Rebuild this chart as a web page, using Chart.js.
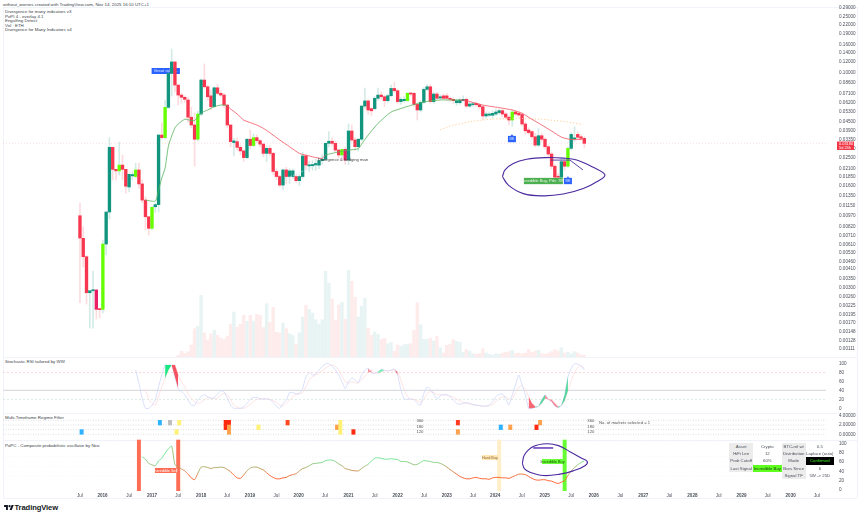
<!DOCTYPE html>
<html>
<head>
<meta charset="utf-8">
<title>ETH/BTC</title>
<script src="https://cdn.jsdelivr.net/npm/chart.js@4"></script>
<style>
    html, body { margin: 0; padding: 0; background: #fff; }
    body { position: relative; width: 860px; height: 515px; overflow: hidden; font-family: "Liberation Sans", sans-serif; color: #333; }
    canvas { position: absolute; left: 3px; }
    .txt { position: absolute; font-size: 4.4px; line-height: 5px; white-space: nowrap; color: #3b3f4a; }
    .rule { position: absolute; background: #f0f3fa; }
    #stats { position: absolute; left: 729.3px; top: 443px; border-collapse: collapse; table-layout: fixed; font-size: 4.3px; }
    #stats td { padding: 0; height: 7.2px; line-height: 7px; text-align: center; color: #4a4e59; overflow: hidden; white-space: nowrap; }
    #stats .head { background: #ececec; }
    #stats .lime { background: #5fff1f; color: #1b3a10; }
    #stats .black { background: #000; color: #39ff14; }
    #brand { position: absolute; left: 14.5px; top: 502.5px; font-size: 7.6px; line-height: 9px; font-weight: bold; color: #131722; letter-spacing: -0.1px; }
</style>
</head>
<body>
<div class="txt" style="left:3px;top:2px">without_worries created with TradingView.com, Nov 14, 2025 16:10 UTC+1</div>
<div class="txt" style="left:5px;top:9px">Divergence for many indicators v3</div>
<div class="txt" style="left:5px;top:13.6px">PoPI 4 - overlay 4.1</div>
<div class="txt" style="left:5px;top:18.2px">Engulfing Detect</div>
<div class="txt" style="left:5px;top:22.8px">Vol · ETH</div>
<div class="txt" style="left:5px;top:27.4px">Divergence for Many Indicators v4</div>
<div class="txt" style="left:5px;top:359px">Stochastic RSI tailored by WW</div>
<div class="txt" style="left:5px;top:415px">Multi-Timeframe Regime Filter</div>
<div class="txt" style="left:5px;top:442.5px">PoPC - Composite probabilistic oscillator by Neo</div>

<div class="rule" style="left:3px;top:7px;width:854px;height:1px"></div>
<div class="rule" style="left:3px;top:357px;width:854px;height:1px"></div>
<div class="rule" style="left:3px;top:413px;width:854px;height:1px"></div>
<div class="rule" style="left:3px;top:440px;width:854px;height:1px"></div>
<div class="rule" style="left:3px;top:498px;width:854px;height:1px"></div>
<div class="rule" style="left:3px;top:7px;width:1px;height:491px"></div>
<div class="rule" style="left:857px;top:7px;width:1px;height:491px"></div>

<canvas id="mainChart" width="854" height="357" style="top:0"></canvas>
<canvas id="stochChart" width="854" height="56" style="top:357px"></canvas>
<canvas id="regimeChart" width="854" height="25" style="top:413px"></canvas>
<canvas id="popcChart" width="854" height="60" style="top:438px"></canvas>

<table id="stats">
    <colgroup><col style="width:23.7px"><col style="width:28.7px"><col style="width:24px"><col style="width:28.3px"></colgroup>
    <tr><td class="head">Asset</td><td>Crypto</td><td class="head">BTC-rel wt</td><td>0.5</td></tr>
    <tr><td class="head">HiFi Len</td><td>12</td><td class="head">Distribution</td><td>Laplace (auto)</td></tr>
    <tr><td class="head">Prob Cutoff</td><td>60%</td><td class="head">Mode</td><td class="black">Confirmed</td></tr>
    <tr><td class="head">Last Signal</td><td class="lime">Incredible Buy</td><td class="head">Bars Since</td><td>6</td></tr>
    <tr><td></td><td></td><td class="head">Signal TF</td><td>5W -> 25D</td></tr>
</table>

<svg style="position:absolute;left:3.5px;top:504px" width="10" height="6" viewBox="0 0 36 22"><path fill="#131722" d="M14 22H7V11H0V4h14v18zM28 22h-8l7.5-18h8L28 22z"/><circle fill="#131722" cx="20" cy="8" r="4"/></svg>
<div id="brand">TradingView</div>

<script>
// 봉 번호 0..154, 25일봉
var openPrices = [
    .00976,.00675,.00500,.00278,.00287,.00291,.00212,.00212,.00615,.01037,
    .0298,.0208,.0203,.0223,.0208,.0156,.0187,.0185,.0206,.0164,
    .0126,.00960,.00795,.0113,.0117,.0364,.0349,.0572,.0996,.120,
    .0823,.0699,.0674,.0645,.0487,.0429,.0340,.0513,.0893,.0800,
    .0690,.0578,.0787,.0719,.0699,.0594,.0429,.0322,.0327,.0298,
    .0281,.0252,.0340,.0307,.0349,.0332,.0314,.0270,.0293,.0270,
    .0201,.0185,.0161,.0206,.0185,.0185,.0185,.0173,.0185,.0259,
    .0220,.0221,.0223,.0223,.0240,.0245,.0318,.0329,.0318,.0285,
    .0263,.0288,.0242,.0389,.0336,.0301,.0340,.0584,.0635,.0560,
    .0560,.0663,.0699,.0680,.0638,.0692,.0779,.0750,.0628,.0638,
    .0638,.0719,.0719,.0600,.0548,.0621,.0767,.0800,.0628,.0711,
    .0666,.0690,.0690,.0658,.0652,.0617,.0617,.0638,.0652,.0584,
    .0597,.0611,.0597,.0578,.0497,.0503,.0503,.0513,.0525,.0542,
    .0513,.0487,.0465,.0530,.0519,.0509,.0436,.0395,.0385,.0354,
    .0309,.0360,.0340,.0301,.0267,.0219,.0185,.0183,.0236,.0219,
    .0293,.0342,.0368,.0354,.0345
];
var closePrices = [
    .00678,.00500,.00278,.00287,.00291,.00212,.00211,.00615,.01037,.0298,
    .0208,.0203,.0223,.0208,.0158,.0192,.0191,.0206,.0164,.0126,
    .00960,.00795,.0112,.0117,.0364,.0349,.0572,.0996,.120,.0823,
    .0699,.0674,.0652,.0487,.0429,.0340,.0513,.0893,.0800,.0680,
    .0578,.0787,.0719,.0699,.0594,.0429,.0327,.0331,.0298,.0281,
    .0252,.0340,.0307,.0349,.0332,.0314,.0270,.0293,.0270,.0201,
    .0185,.0161,.0206,.0185,.0203,.0203,.0173,.0185,.0259,.0223,
    .0224,.0225,.0229,.0240,.0245,.0318,.0329,.0318,.0285,.0263,
    .0288,.0242,.0389,.0336,.0301,.0340,.0584,.0635,.0548,.0541,
    .0663,.0699,.0680,.0638,.0692,.0779,.0750,.0628,.0652,.0652,
    .0719,.0711,.0600,.0548,.0621,.0767,.0800,.0628,.0711,.0663,
    .0680,.0663,.0663,.0652,.0638,.0638,.0645,.0652,.0584,.0604,
    .0604,.0597,.0578,.0497,.0513,.0513,.0519,.0530,.0542,.0513,
    .0487,.0465,.0530,.0513,.0505,.0436,.0390,.0379,.0354,.0309,
    .0360,.0340,.0301,.0267,.0219,.0183,.0183,.0236,.0219,.0293,
    .0368,.0346,.0351,.0345,.0318
];
var highPrices = [
    .0120,.00816,.00510,.00290,.00395,.00291,.00213,.00656,.0104,.0349,
    .0298,.0208,.0325,.0263,.0208,.0192,.0200,.0230,.0230,.0175,
    .0133,.00960,.0114,.0120,.0370,.0444,.0645,.100,.148,.120,
    .0823,.0720,.0690,.0677,.0575,.0522,.0535,.0910,.116,.0820,
    .0759,.0800,.0835,.0750,.0720,.0600,.0429,.0345,.0347,.0310,
    .0285,.0345,.0395,.0370,.0365,.0340,.0320,.0305,.0305,.0275,
    .0210,.0190,.0210,.0215,.0210,.0209,.0190,.0192,.0275,.0265,
    .0238,.0240,.0245,.0250,.0265,.0320,.0385,.0350,.0330,.0290,
    .0290,.0300,.0436,.0429,.0350,.0345,.0592,.0784,.0650,.0570,
    .0680,.0784,.0735,.0700,.0710,.0823,.0860,.0770,.0670,.0680,
    .0730,.0730,.0730,.0610,.0640,.0790,.0830,.0830,.0730,.0730,
    .0700,.0710,.0720,.0680,.0670,.0655,.0660,.0690,.0670,.0620,
    .0620,.0625,.0610,.0590,.0530,.0530,.0540,.0555,.0555,.0555,
    .0525,.0500,.0550,.0545,.0535,.0525,.0450,.0410,.0390,.0375,
    .0409,.0375,.0350,.0310,.0275,.0225,.0195,.0250,.0245,.0300,
    .0380,.0417,.0385,.0365,.0355
];
var lowPrices = [
    .00236,.00422,.00231,.00156,.00156,.00181,.00184,.00200,.00514,.00925,
    .0175,.0175,.0190,.0175,.0141,.0144,.0175,.0180,.0153,.0120,
    .00773,.00712,.00773,.0103,.0104,.0340,.0340,.0560,.0688,.0737,
    .0594,.0615,.0620,.0450,.0410,.0219,.0330,.0500,.0780,.0640,
    .0550,.0570,.0700,.0680,.0570,.0410,.0300,.0259,.0285,.0265,
    .0236,.0248,.0290,.0300,.0320,.0300,.0255,.0236,.0260,.0190,
    .0175,.0156,.0150,.0165,.0165,.0180,.0168,.0160,.0180,.0205,
    .0200,.0205,.0205,.0210,.0225,.0240,.0300,.0305,.0275,.0250,
    .0250,.0225,.0225,.0325,.0285,.0280,.0330,.0560,.0510,.0500,
    .0550,.0640,.0650,.0580,.0620,.0680,.0730,.0610,.0600,.0620,
    .0630,.0690,.0580,.0465,.0530,.0610,.0750,.0610,.0610,.0650,
    .0650,.0650,.0640,.0630,.0610,.0590,.0600,.0630,.0570,.0570,
    .0580,.0585,.0560,.0470,.0480,.0490,.0480,.0500,.0510,.0490,
    .0470,.0430,.0420,.0500,.0490,.0420,.0370,.0365,.0340,.0300,
    .0300,.0325,.0290,.0255,.0210,.0168,.0170,.0175,.0205,.0215,
    .0285,.0325,.0340,.0335,.0296
];
var limeBars = [7, 12, 17, 22, 26, 36, 53, 80, 100, 132, 149];
var crimsonBars = [5, 81];

// 거래량은 30번 봉부터
var volumeStart = 30;
var volumes = [
    5,17,11,16,36,85,92,185,72,51,
    70,80,65,57,52,63,98,135,90,98,
    125,107,125,108,128,125,88,160,104,149,
    74,72,102,85,70,65,38,73,120,155,
    143,132,112,99,112,257,221,174,111,156,
    164,113,260,227,179,120,152,176,87,65,
    75,68,52,56,40,44,18,36,32,37,
    38,40,80,163,97,53,53,57,48,62,
    28,12,35,38,52,47,44,15,22,18,
    10,8,10,25,12,8,5,10,8,12,
    14,16,20,10,12,10,12,22,14,18,
    20,10,8,12,16,22,18,28,12,14,
    10,16,12,6,5
];

var maBars = [20,23,24,25,26,27,28,29,30,32,34,35,37,39,41,43,44,45,46,48,50,52,54,56,58,61,64,67,70,72,74,75,77,79,82,85,86,88,91,95,98,101,104,106,110,113,116,118,123,128,132,135,138,141,144,147,150,154];
var maValues = [.0126,.0124,.0148,.0181,.0213,.0304,.0358,.0409,.0436,.0471,.0461,.0461,.0521,.0548,.0579,.0594,.0594,.0584,.0557,.0513,.0465,.0446,.0429,.0406,.0378,.0336,.0301,.0270,.0259,.0252,.0249,.0263,.0270,.0277,.0285,.0291,.0314,.0364,.0440,.0530,.0561,.0590,.0616,.0631,.0645,.0645,.0645,.0638,.0594,.0569,.0548,.0519,.0471,.0429,.0389,.0352,.0338,.0340];
// 이동평균 하락 구간은 빨강
var maRedRanges = [[45, 75], [116, 154]];

var archBars = [110,113,119,125,133,141,147.5,153.6];
var archValues = [.0396,.0422,.0453,.0471,.0479,.0471,.0455,.0433];

var priceTicks = [.29,.25,.22,.19,.16,.14,.12,.10,.086,.071,.062,.053,.045,.039,.0335,.029,.025,.021,.0185,.016,.0135,.0115,.0097,.0082,.0071,.0061,.0053,.0046,.0041,.0035,.0030,.0026,.00225,.00195,.0017,.00148,.00128,.00111];

// 손으로 그린 타원과 화살표
var ringBars = [129,129.8,132.3,136.4,142.5,147.6,151.7,156.7,160.3,157.8,153.7,147.6,141.5,135.4,130.8,129];
var ringValues = [.0185,.0206,.0229,.0245,.0252,.0250,.0242,.0215,.0190,.0170,.0152,.0139,.0135,.0140,.0161,.0185];
var arrowBars = [143.8,149.6,153.6];
var arrowValues = [.0242,.0242,.0206];
var hedgeBars = [62.6,72.3];
var hedgeValues = [.0178,.0223];

var stochStart = 17;
var stochK = [
    85,56,22,0,0,7,19,48,74,96,96,96,70,44,37,30,19,7,7,19,
    26,30,26,22,24,32,39,37,22,7,0,0,0,4,11,20,24,24,21,21,
    21,19,13,5,0,11,19,35,35,32,33,44,70,79,74,76,85,93,99,99,
    94,85,74,59,44,59,67,63,57,74,85,89,78,78,81,87,84,83,85,87,
    74,41,21,20,21,19,11,7,33,47,42,32,20,28,30,30,26,20,11,9,
    11,13,11,9,7,6,5,5,7,15,26,31,32,22,7,30,52,74,52,30,
    0,0,2,4,19,30,20,15,5,1,7,30,70,89,99,98,94,85
];
var stochDStart = 20;
var stochD = [
    42,20,11,7,26,48,67,85,96,96,74,59,48,33,22,15,11,13,19,24,
    22,22,22,30,33,30,19,7,2,0,0,4,9,15,20,21,21,21,20,17,
    13,7,5,11,19,26,31,32,35,48,63,70,74,78,84,89,94,96,93,85,
    72,59,56,59,57,56,63,72,79,85,79,78,81,84,84,84,85,81,63,41,
    26,20,20,17,13,19,33,37,35,31,30,30,30,27,26,20,17,13,11,10,
    7,7,6,5,5,6,9,15,22,25,25,21,22,35,47,50,42,26,11,4,
    4,11,22,20,19,11,4,6,17,39,61,79,91,95,89
];
var stochLevels = [80, 40, 20];
var stochTicks = [0, 20, 40, 60, 80, 100];
// K, D 교차 구간 채우기 [시작, 끝, 색]
var crossZones = [
    [26, 28, 'rgba(0,230,118,.9)'], [28, 30, 'rgba(242,54,69,.85)'],
    [88, 89, 'rgba(242,54,69,.7)'], [91, 93, 'rgba(0,230,118,.5)'], [96, 97, 'rgba(242,54,69,.7)'],
    [137, 139, 'rgba(242,54,69,.75)'], [139, 142, 'rgba(0,200,110,.65)'],
    [142, 146, 'rgba(242,54,69,.55)'], [146, 149, 'rgba(0,200,110,.65)']
];

var regimeBars = [24.4,27.5,30.3,44.5,45.5,63.4,79.5,115.4,140.5, 44.5,45.5,54.5,78.5,79.5,128.5,131.4,139.4, 0.5,29.5,45.5,79.5,83.5,115.4];
var regimeRows = [2,2,2,2,2,2,2,2,2, 1,1,1,1,1,1,1,1, 0,0,0,0,0,0];
var regimeColours = ['#2db2ff','#bdbdbd','#fff176','#ff2a10','#ff2a10','#ff4a20','#fff176','#ff3a20','#ffa24d',
    '#ff2a10','#ffa24d','#fff176','#ffa24d','#fff176','#2db2ff','#ffa24d','#ff2a10',
    '#2db2ff','#fff176','#ffa24d','#fff176','#ff2a10','#ffa24d'];
var regimeLevels = [0, 1, 2, 3];
var regimeTicks = [0, 2, 4];

var popcStart = 19;
var popcValues = [
    71,66,57,54,52,62,68,79,88,94,54,50,45,41,34,26,22,36,49,50,
    48,46,48,48,49,48,44,39,32,26,25,32,41,47,49,49,46,43,37,31,
    27,24,24,26,27,31,33,35,41,46,48,52,56,57,58,59,63,64,64,61,
    56,52,46,44,42,41,41,46,51,55,62,68,69,68,66,66,67,66,65,61,
    61,60,57,54,55,59,63,62,61,59,59,57,54,49,44,39,34,29,26,24,
    24,26,27,25,24,24,23,26,27,27,26,26,25,28,31,34,34,33,29,25,
    22,21,22,22,20,19,16,14,17,20,31,41,48,54,59,62
];
var popcTicks = [0, 20, 40, 60, 80, 100];
var popcLevels = [71, 50, 30, 105];
var signalBars = [18, 30, 128, 148];
var signalColours = ['#ff6d55', '#ff6d55', '#ffeec7', '#66ff33'];
var popcRingBars = [135.1,135.7,138.4,142.5,146.1,149.6,153.2,154.9,154.2,150.6,146.6,141.5,137.4,135.7,135.1];
var popcRingValues = [57,75,93,99,95,82,68,61,52,41,34,31,38,46,57];
var popcBarBars = [138.4,144.5];
var popcBarValues = [90,90];

var timeTickBars = [0,6.9,15,22,30,37,44.9,51.9,60,66.8,74.8,82,90,97,105,112,120,126.8,134.9,141.9,150,156.9,165,172,180,187,195,202,210,217,225];
var timeTickLabels = ['Jul','2016','Jul','2017','Jul','2018','Jul','2019','Jul','2020','Jul','2021','Jul','2022','Jul','2023','Jul','2024','Jul','2025','Jul','2026','Jul','2027','Jul','2028','Jul','2029','Jul','2030','Jul'];

var xMin = -23.5, xMax = 227.8;
var AXIS_FONT = { family: '"Liberation Sans", sans-serif', size: 4.6 };
var TEAL = '#12957f', RED = '#f7374f', LIME = '#66ff00', CRIMSON = '#e91e63';
var PURPLE = '#4b2a9e';

function toPoints(bars, values) {
    return bars.map(function(bar, i) { return { x: bar, y: values[i] }; });
}

function fromStart(start, values) {
    return values.map(function(v, i) { return { x: start + i, y: v }; });
}

function horizontal(value) {
    return [{ x: xMin, y: value }, { x: xMax, y: value }];
}

// tick padding이 플롯 영역을 줄이지 않게 0으로 되돌림
function clearScalePadding(scale) {
    scale.paddingTop = 0;
    scale.paddingBottom = 0;
    scale.paddingLeft = 0;
    scale.paddingRight = 0;
}

// 차트 공통 옵션
function baseOptions(yScale, extraScales) {
    var scales = {
        x: { type: 'linear', min: xMin, max: xMax, offset: false, display: false },
        y: Object.assign({
            position: 'right',
            border: { display: false },
            grid: { display: false, drawTicks: false },
            afterFit: function(scale) {
                scale.width = 31;
                clearScalePadding(scale);
            }
        }, yScale)
    };
    Object.assign(scales, extraScales || {});
    return {
        responsive: false,
        animation: false,
        devicePixelRatio: 1,
        layout: { autoPadding: false, padding: 0 },
        events: [],
        plugins: { legend: { display: false }, tooltip: { enabled: false } },
        scales: scales
    };
}

function yTicks(values, format) {
    return {
        autoSkip: false,
        padding: 13,
        maxRotation: 0,
        color: '#4d505b',
        font: AXIS_FONT,
        callback: format
    };
}

function setTicks(values) {
    return function(scale) {
        scale.ticks = values.map(function(v) { return { value: v }; });
    };
}

function lineSet(points, colour, width, dash, order) {
    return {
        type: 'line', data: points, borderColor: colour, borderWidth: width,
        borderDash: dash || [], pointRadius: 0, fill: false, order: order || 1
    };
}

// 값 좌표에 붙는 글상자
function notesPlugin(notes) {
    function drawNote(chart, note) {
        var ctx = chart.ctx;
        var cx = chart.scales.x.getPixelForValue(note.bar);
        var cy = chart.scales.y.getPixelForValue(note.value);
        ctx.save();
        if (note.bg) {
            var w = note.w, h = note.h;
            ctx.fillStyle = note.bg;
            ctx.fillRect(cx - w / 2, cy - h / 2, w, h);
            if (note.notch) {
                ctx.beginPath();
                ctx.moveTo(cx - 1.5, cy - h / 2);
                ctx.lineTo(cx, cy - h / 2 - 1.6);
                ctx.lineTo(cx + 1.5, cy - h / 2);
                ctx.fill();
            }
        }
        ctx.fillStyle = note.colour;
        ctx.font = (note.size || 4.2) + 'px "Liberation Sans", sans-serif';
        ctx.textAlign = note.align || 'center';
        ctx.textBaseline = 'middle';
        ctx.fillText(note.text, cx, cy + 0.2);
        ctx.restore();
    }
    return {
        id: 'notes',
        beforeDatasetsDraw: function(chart) {
            notes.filter(function(n) { return n.behind; }).forEach(function(n) { drawNote(chart, n); });
        },
        afterDatasetsDraw: function(chart) {
            notes.filter(function(n) { return !n.behind; }).forEach(function(n) { drawNote(chart, n); });
        }
    };
}

function candleColour(i) {
    if (limeBars.indexOf(i) >= 0) return LIME;
    if (crimsonBars.indexOf(i) >= 0) return CRIMSON;
    return closePrices[i] >= openPrices[i] ? TEAL : RED;
}

function buildMainChart() {
    var lastClose = closePrices[closePrices.length - 1];
    var candles = openPrices.map(function(o, i) { return { x: i, y: [o, closePrices[i]] }; });
    var wicks = openPrices.map(function(o, i) { return { x: i, y: [lowPrices[i], highPrices[i]] }; });
    var wickColours = openPrices.map(function(o, i) {
        return closePrices[i] >= o ? '#d3ebe7' : '#fddcdf';
    });
    var volumePoints = volumes.map(function(v, i) { return { x: volumeStart + i, y: v }; });
    var volumeColours = volumes.map(function(v, i) {
        var bar = volumeStart + i;
        return closePrices[bar] >= openPrices[bar] ? '#e8f4f4' : '#fdeceb';
    });

    var maLine = lineSet(toPoints(maBars, maValues), '#4caf50', 0.8, [], 1);
    maLine.segment = {
        borderColor: function(ctx) {
            var bar = ctx.p0.parsed.x;
            var isRed = maRedRanges.some(function(r) { return bar >= r[0] && bar < r[1]; });
            return isRed ? '#f2505f' : '#57b35c';
        }
    };
    maLine.tension = 0.2;

    var ring = lineSet(toPoints(ringBars, ringValues), PURPLE, 1.1, [], 0);
    ring.tension = 0.4;

    var notes = [
        { bar: 26.2, value: .1035, w: 28.3, h: 6, bg: '#2962ff', colour: '#dfe7ff', text: 'Great rally ...', behind: true },
        { bar: 141.5, value: .0172, w: 39, h: 6.3, bg: '#4caf50', colour: '#eaf7ea', text: 'Incredible Buy, Prb: 78%' },
        { bar: 131.9, value: .0341, w: 8, h: 6.3, bg: '#2962ff', colour: '#dfe7ff', text: 'BE', notch: true, size: 3.6 },
        { bar: 149, value: .0172, w: 8, h: 6.3, bg: '#2962ff', colour: '#dfe7ff', text: 'BE', notch: true, size: 3.6 },
        { bar: 80.3, value: .0242, colour: '#444', text: 'Divergence & hedging man' }
    ];

    // 오른쪽 현재가 표시
    var lastPriceTag = {
        id: 'lastPriceTag',
        afterDraw: function(chart) {
            var ctx = chart.ctx;
            var y = chart.scales.y.getPixelForValue(lastClose);
            ctx.save();
            ctx.fillStyle = '#f23645';
            ctx.fillRect(834, y - 1.8, 17, 8.4);
            ctx.fillStyle = '#fff';
            ctx.font = '3.9px "Liberation Sans", sans-serif';
            ctx.textBaseline = 'middle';
            ctx.fillText(lastClose.toFixed(5), 836, y + 0.4);
            ctx.fillText('5d 23h', 836, y + 4.4);
            ctx.restore();
        }
    };

    new Chart(document.getElementById('mainChart'), {
        type: 'bar',
        data: {
            datasets: [
                lineSet(horizontal(lastClose), 'rgba(242,54,69,.28)', 0.6, [1, 2], 6),
                { data: volumePoints, yAxisID: 'volume', backgroundColor: volumeColours, barThickness: 2.8, grouped: false, order: 7 },
                { data: wicks, backgroundColor: wickColours, barThickness: 1, grouped: false, order: 4 },
                { data: candles, backgroundColor: openPrices.map(function(o, i) { return candleColour(i); }), barThickness: 2.7, minBarLength: 1, grouped: false, order: 3 },
                lineSet(toPoints(archBars, archValues), '#ffc98a', 0.9, [1.2, 2], 2),
                lineSet(toPoints(hedgeBars, hedgeValues), '#cfe3f5', 0.8, [1.5, 1.5], 2),
                maLine,
                ring,
                lineSet(toPoints(arrowBars, arrowValues), PURPLE, 0.9, [], 0)
            ]
        },
        options: (function() {
            var opts = baseOptions({
                type: 'logarithmic',
                min: 0.000974,
                max: 0.2893,
                ticks: yTicks(priceTicks, function(v) { return Number(v).toFixed(5); }),
                afterBuildTicks: setTicks(priceTicks)
            }, {
                volume: { type: 'linear', position: 'right', display: false, min: 0, max: 1047 }
            });
            opts.layout.padding = { top: 8 };
            return opts;
        })(),
        plugins: [notesPlugin(notes), lastPriceTag]
    });
}

function buildStochChart() {
    var kPoints = fromStart(stochStart, stochK);
    var dPoints = fromStart(stochDStart, stochD);
    var datasets = [
        lineSet(horizontal(stochLevels[0]), '#fbc4c8', 0.7, [2, 2], 5),
        lineSet(horizontal(stochLevels[1]), '#d2d4d8', 1, [], 5),
        lineSet(horizontal(stochLevels[2]), '#cfe6d4', 0.7, [2, 2], 5),
        Object.assign(lineSet(kPoints, '#cfd7fa', 0.8, [], 2), { tension: 0.2 }),
        Object.assign(lineSet(dPoints, '#fcdadc', 0.8, [], 3), { tension: 0.2 })
    ];

    crossZones.forEach(function(zone) {
        var inZone = function(p) { return p.x >= zone[0] && p.x <= zone[1]; };
        datasets.push({
            type: 'line', data: kPoints.filter(inZone), borderColor: 'transparent', borderWidth: 0, pointRadius: 0, order: 1,
            fill: { target: datasets.length + 1, above: zone[2], below: zone[2] }
        });
        datasets.push({ type: 'line', data: dPoints.filter(inZone), borderColor: 'transparent', borderWidth: 0, pointRadius: 0, order: 1, fill: false });
    });

    new Chart(document.getElementById('stochChart'), {
        type: 'line',
        data: { datasets: datasets },
        options: baseOptions({
            type: 'linear', min: -10.4, max: 114,
            ticks: yTicks(stochTicks, function(v) { return v; }),
            afterBuildTicks: setTicks(stochTicks)
        })
    });
}

function buildRegimeChart() {
    var cells = regimeBars.map(function(bar, i) { return { x: bar, y: [regimeRows[i], regimeRows[i] + 1] }; });
    var datasets = regimeLevels.map(function(level) {
        return lineSet(horizontal(level), '#c9ccd3', 0.6, [1, 1.5], 3);
    });
    datasets.push({ data: cells, backgroundColor: regimeColours, barThickness: 3.3, grouped: false, order: 1 });

    var notes = [
        { bar: 103.8, value: 2.93, colour: '#555', text: '360' },
        { bar: 103.8, value: 1.57, colour: '#555', text: '180' },
        { bar: 103.8, value: 0.5, colour: '#555', text: '120' },
        { bar: 156, value: 2.93, colour: '#555', text: '360' },
        { bar: 156, value: 1.57, colour: '#555', text: '180' },
        { bar: 156, value: 0.5, colour: '#555', text: '120' },
        { bar: 158.5, value: 2.6, colour: '#555', text: 'No. of markets selected = 1', align: 'left' }
    ];

    new Chart(document.getElementById('regimeChart'), {
        type: 'bar',
        data: { datasets: datasets },
        options: baseOptions({
            type: 'linear', min: -0.8, max: 4.58,
            ticks: yTicks(regimeTicks, function(v) { return Number(v).toFixed(5); }),
            afterBuildTicks: setTicks(regimeTicks)
        }),
        plugins: [notesPlugin(notes)]
    });
}

// 낮으면 주황빨강, 높으면 초록
function popcColour(value) {
    var t = Math.max(0, Math.min(1, (value - 28) / 36));
    var r = Math.round(255 + (105 - 255) * t);
    var g = Math.round(87 + (225 - 87) * t);
    var b = Math.round(34 + (140 - 34) * t);
    return 'rgb(' + r + ',' + g + ',' + b + ')';
}

function buildPopcChart() {
    var columns = signalBars.map(function(bar) { return { x: bar, y: [-2, 107] }; });
    var datasets = popcLevels.map(function(level) {
        return lineSet(horizontal(level), '#eceef2', 0.6, [1, 2], 6);
    });
    datasets.push({ data: columns, backgroundColor: signalColours, barThickness: 3.3, grouped: false, order: 5 });

    var popcLine = lineSet(fromStart(popcStart, popcValues), '#69e18c', 0.9, [], 2);
    popcLine.tension = 0.2;
    popcLine.segment = { borderColor: function(ctx) { return popcColour(ctx.p1.parsed.y); } };
    datasets.push(popcLine);

    var ring = lineSet(toPoints(popcRingBars, popcRingValues), PURPLE, 1.1, [], 0);
    ring.tension = 0.4;
    datasets.push(ring);
    datasets.push(lineSet(toPoints(popcBarBars, popcBarValues), '#7e57c2', 1.8, [], 0));

    var notes = [
        { bar: 26.1, value: 41.8, w: 21, h: 5, bg: '#ff6a50', colour: '#fff', text: 'Incredible Sell', size: 3.8 },
        { bar: 125.2, value: 69.6, w: 16, h: 5, bg: '#ffe6b3', colour: '#8a6d3b', text: 'Hard Buy', size: 3.8 },
        { bar: 144.3, value: 61, w: 21, h: 5, bg: '#66ff33', colour: '#1f4a10', text: 'Incredible Buy', size: 3.8 }
    ];

    var opts = baseOptions({
        type: 'linear', min: -2.1, max: 111.3,
        ticks: yTicks(popcTicks, function(v) { return v; }),
        afterBuildTicks: setTicks(popcTicks)
    });
    opts.scales.x = {
        type: 'linear', min: xMin, max: xMax, offset: false, position: 'bottom',
        border: { display: false },
        grid: { display: false, drawTicks: false },
        afterFit: function(scale) {
            scale.height = 7;
            clearScalePadding(scale);
        },
        afterBuildTicks: setTicks(timeTickBars),
        ticks: {
            autoSkip: false, maxRotation: 0, padding: 1.5, color: '#4d505b',
            font: function(ctx) {
                var isYear = ctx.index % 2 === 1;
                return { family: AXIS_FONT.family, size: 4.6, weight: isYear ? 'bold' : 'normal' };
            },
            callback: function(value, index) { return timeTickLabels[index]; }
        }
    };

    new Chart(document.getElementById('popcChart'), {
        type: 'bar',
        data: { datasets: datasets },
        options: opts,
        plugins: [notesPlugin(notes)]
    });
}

document.addEventListener('DOMContentLoaded', function() {
    buildMainChart();
    buildStochChart();
    buildRegimeChart();
    buildPopcChart();
});
</script>
</body>
</html>
